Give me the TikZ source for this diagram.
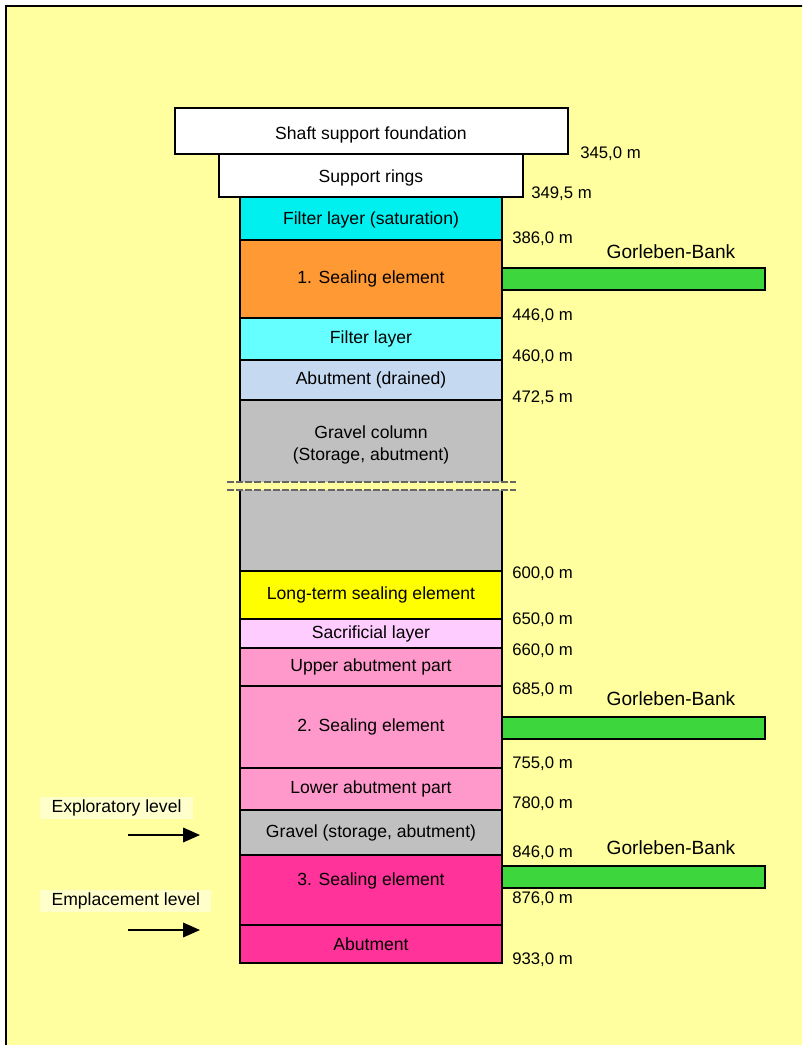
\documentclass[tikz,border=0pt]{standalone}
\usepackage{fontspec}
\setmainfont{Liberation Sans}
\usetikzlibrary{arrows.meta}
\definecolor{bgyellow}{HTML}{FFFFA0}
\definecolor{lvlyellow}{HTML}{FFFFCC}
\definecolor{satcyan}{HTML}{00F0F0}
\definecolor{filtcyan}{HTML}{66FFFF}
\definecolor{sealorange}{HTML}{FF9933}
\definecolor{drainblue}{HTML}{C5D9F1}
\definecolor{gravelgray}{HTML}{C0C0C0}
\definecolor{longyellow}{HTML}{FFFF00}
\definecolor{sacpink}{HTML}{FFCCFF}
\definecolor{abutpink}{HTML}{FF99CC}
\definecolor{sealmagenta}{HTML}{FF3399}
\definecolor{bankgreen}{HTML}{3DD63D}
\tikzset{
every node/.style={font=\fontsize{12.5}{15.5}\selectfont}, % text size of all labels
layer/.style={draw=black, line width=0.9pt}, % one layer of the shaft
depth/.style={anchor=west, inner sep=0pt, font=\fontsize{11.9}{14}\selectfont}, % depth marks right of the shaft
bank/.style={draw=black, line width=0.9pt, fill=bankgreen},
banklabel/.style={font=\fontsize{13.6}{16}\selectfont},
lvl/.style={fill=lvlyellow, inner xsep=8pt, inner ysep=2pt, minimum height=0.55cm},
lvlarrow/.style={-{Triangle[length=0.42cm, width=0.36cm]}, line width=1.4pt},
}
\begin{document}
\begin{tikzpicture}[x=0.025cm, y=-0.025cm]
        \useasboundingbox (0,0) rectangle (802,1045);
        \clip (0,0) rectangle (802,1045);
        \fill[white] (0,0) rectangle (802,1045);
        \draw[fill=bgyellow, line width=0.9pt] (6,6) rectangle (820,1060);
        % shaft head
        \draw[layer, fill=white] (175,108) rectangle (568,154);
        \node at (371,135) (found) {Shaft support foundation};
        \draw[layer, fill=white] (219,154) rectangle (523,197);
        \node at (371,178) (rings) {Support rings};
        % shaft column
        \draw[layer, fill=satcyan] (240,197) rectangle (502,240);
        \node at (371,220) (filtsat) {Filter layer (saturation)};
        \draw[layer, fill=sealorange] (240,240) rectangle (502,318) node[midway] (seal1) {1. Sealing element};
        \draw[layer, fill=filtcyan] (240,318) rectangle (502,360) node[midway] (filt) {Filter layer};
        \draw[layer, fill=drainblue] (240,360) rectangle (502,400) node[midway] (abutdr) {Abutment (drained)};
        \draw[layer, fill=gravelgray] (240,400) rectangle (502,571);
        \node[align=center] at (371,445) (gravcol) {Gravel column\\(Storage, abutment)};
        \draw[layer, fill=longyellow] (240,571) rectangle (502,619) node[midway] (longseal) {Long-term sealing element};
        \draw[layer, fill=sacpink] (240,619) rectangle (502,648) node[midway] (sacr) {Sacrificial layer};
        \draw[layer, fill=abutpink] (240,648) rectangle (502,686) node[midway] (upabut) {Upper abutment part};
        \draw[layer, fill=abutpink] (240,686) rectangle (502,768) node[midway] (seal2) {2. Sealing element};
        \draw[layer, fill=abutpink] (240,768) rectangle (502,810) node[midway] (lowabut) {Lower abutment part};
        \draw[layer, fill=gravelgray] (240,810) rectangle (502,855) node[midway] (gravel) {Gravel (storage, abutment)};
        \draw[layer, fill=sealmagenta] (240,855) rectangle (502,925);
        \node at (371,881) (seal3) {3. Sealing element};
        \draw[layer, fill=sealmagenta] (240,925) rectangle (502,963) node[midway] (abut) {Abutment};
        % break of the gravel column
        \fill[bgyellow] (227,482) rectangle (516,490);
        \draw[gray!80!black, line width=0.8pt, dash pattern=on 5pt off 1.5pt] (227,482) -- (516,482) (227,490) -- (516,490);
        % depths
        \node[depth] at (580,154) (d1) {345,0 m};
        \node[depth] at (531,194) (d2) {349,5 m};
        \node[depth] at (512,239) (d3) {386,0 m};
        \node[depth] at (512,316) (d4) {446,0 m};
        \node[depth] at (512,357) (d5) {460,0 m};
        \node[depth] at (512,398) (d6) {472,5 m};
        \node[depth] at (512,574) (d7) {600,0 m};
        \node[depth] at (512,620) (d8) {650,0 m};
        \node[depth] at (512,651) (d9) {660,0 m};
        \node[depth] at (512,690) (d10) {685,0 m};
        \node[depth] at (512,764) (d11) {755,0 m};
        \node[depth] at (512,804) (d12) {780,0 m};
        \node[depth] at (512,853) (d13) {846,0 m};
        \node[depth] at (512,899) (d14) {876,0 m};
        \node[depth] at (512,960) (d15) {933,0 m};
        % Gorleben-Bank
        \draw[bank] (502,268) rectangle (765,290);
        \draw[bank] (502,717) rectangle (765,739);
        \draw[bank] (502,866) rectangle (765,888);
        \node[banklabel] at (671,252) (bank1) {Gorleben-Bank};
        \node[banklabel] at (671,699) (bank2) {Gorleben-Bank};
        \node[banklabel] at (671,848) (bank3) {Gorleben-Bank};
        % levels
        \node[lvl, anchor=west] at (40,808) (explo) {Exploratory level};
        \node[lvl, anchor=west] at (40,901) (empl) {Emplacement level};
        \coordinate (e1) at (128,835);
        \coordinate (e2) at (200,835);
        \coordinate (m1) at (128,930);
        \coordinate (m2) at (200,930);
        \draw[lvlarrow] (e1) -- (e2);
        \draw[lvlarrow] (m1) -- (m2);
\end{tikzpicture}
\end{document}
